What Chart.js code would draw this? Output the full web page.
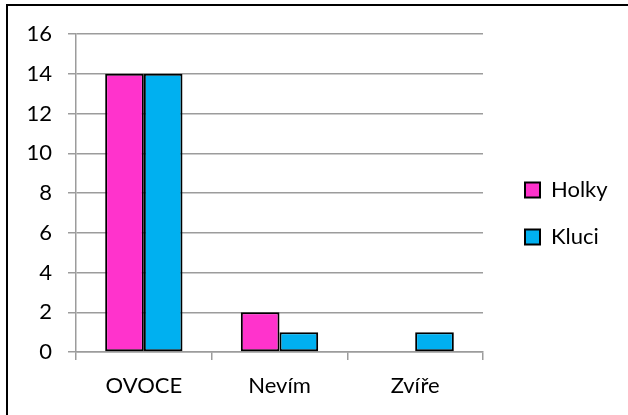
<!DOCTYPE html>
<html>
<head>
<meta charset="utf-8">
<script src="https://cdn.jsdelivr.net/npm/chart.js@4.4.1/dist/chart.umd.min.js"></script>
<style>
  body { margin: 0; background: #fff; }
  .wrap { position: relative; width: 628px; height: 415px; overflow: hidden; }
  .frame { position: absolute; left: 6px; top: 4px; right: -10px; bottom: -10px; border-left: 2px solid #000; border-top: 2px solid #000; }
  canvas { position: absolute; left: 0; top: 0; }
</style>
</head>
<body>
<div class="wrap">
  <div class="frame"></div>
  <canvas id="myBarChart" width="628" height="415"></canvas>
</div>
<script>
const categories = ['OVOCE', 'Nevím', 'Zvíře'];
const holky = [14, 2, 0];
const kluci = [14, 1, 1];
const yTicks = [0, 2, 4, 6, 8, 10, 12, 14, 16];

const gridColor = '#9c9c9c';
const font = { family: 'Lato', size: 22 };

const drawChart = () => {
  var ctx = document.getElementById('myBarChart').getContext('2d');
  var myBarChart = new Chart(ctx, {
    type: 'bar',
    data: {
      labels: categories,
      datasets: [{
        label: 'Holky',
        data: holky,
        backgroundColor: '#ff33cc',
        borderColor: '#000',
        borderWidth: 2,
        borderSkipped: false
      }, {
        label: 'Kluci',
        data: kluci,
        backgroundColor: '#00b0f0',
        borderColor: '#000',
        borderWidth: 2,
        borderSkipped: false
      }]
    },
    options: {
      responsive: false,
      animation: false,
      categoryPercentage: 0.57,
      barPercentage: 1.0,
      layout: {
        padding: { left: 0, top: 12, right: 18, bottom: 0 }
      },
      plugins: {
        tooltip: { enabled: false },
        legend: {
          position: 'right',
          maxWidth: 110,
          labels: {
            color: '#000',
            font: font,
            boxWidth: 15,
            boxHeight: 15,
            padding: 25
          }
        }
      },
      scales: {
        x: {
          grid: {
            drawOnChartArea: false,
            tickLength: 8,
            color: gridColor,
            lineWidth: 1.5
          },
          border: { color: gridColor, width: 1.5 },
          ticks: { color: '#000', font: font, padding: 13 },
          afterFit: (axis) => {
            axis.height = 63;
          }
        },
        y: {
          min: 0,
          max: 16,
          afterBuildTicks: (axis) => {
            axis.ticks = yTicks.map(v => ({ value: v }));
          },
          grid: {
            color: gridColor,
            lineWidth: 1.5,
            tickLength: 8
          },
          border: { color: gridColor, width: 1.5 },
          ticks: { color: '#000', font: font, padding: 16 },
          afterFit: (axis) => {
            axis.width = 76;
          }
        },
        // empty axes, only used to keep the plot area where the original has it
        spacerTop: {
          type: 'category',
          position: 'top',
          grid: { display: false },
          border: { display: false },
          ticks: { display: false },
          afterFit: (axis) => {
            axis.height = 22;
          }
        },
        spacer: {
          position: 'right',
          grid: { display: false },
          border: { display: false },
          ticks: { display: false },
          afterFit: (axis) => {
            axis.width = 17;
          }
        }
      }
    }
  });
}

document.fonts.load('22px Lato').then(drawChart, drawChart);
</script>
</body>
</html>
